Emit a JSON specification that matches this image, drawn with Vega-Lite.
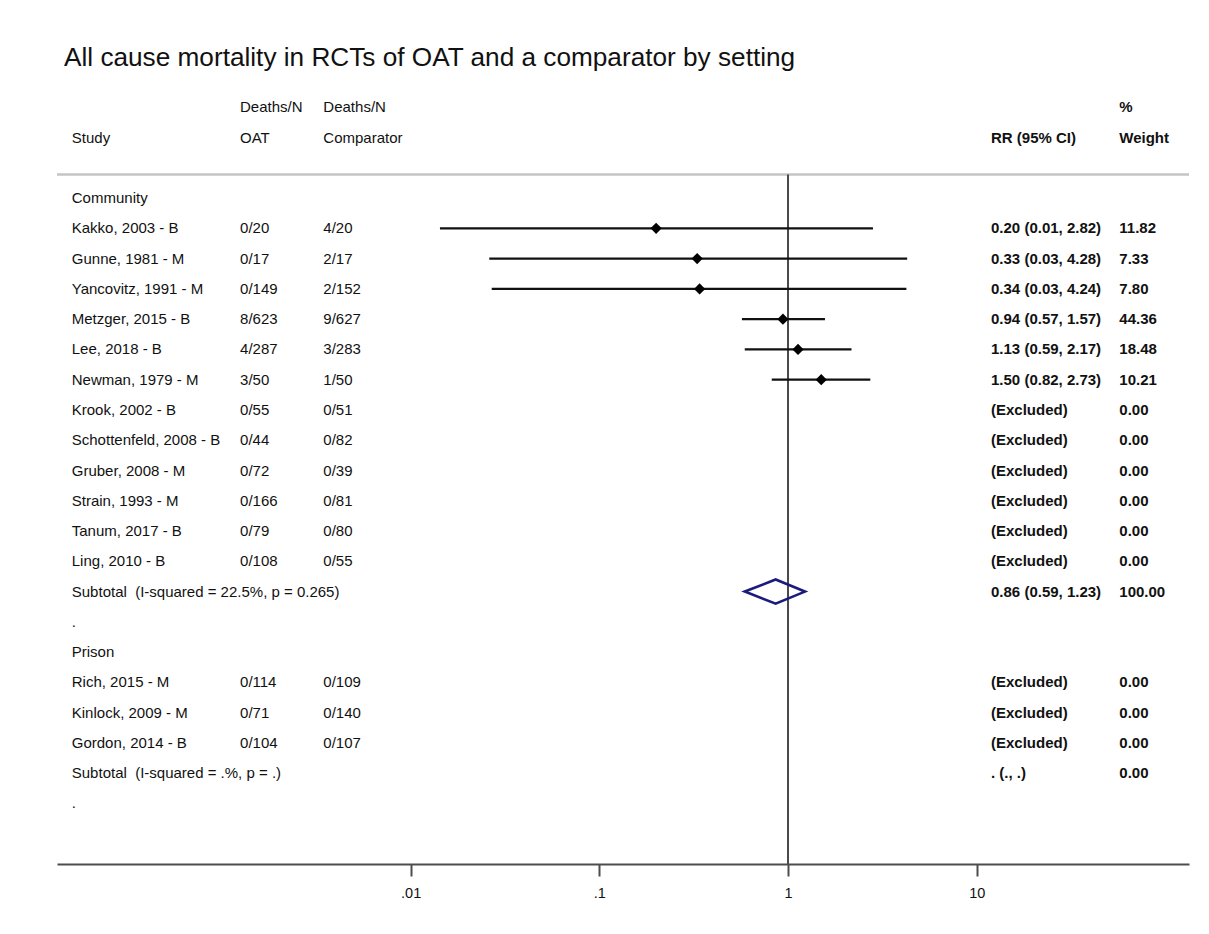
{
  "$schema": "https://vega.github.io/schema/vega-lite/v6.json",
  "width": 1132,
  "height": 787,
  "autosize": {"type": "none"},
  "padding": {"left": 57, "top": 77, "right": 20, "bottom": 70},
  "background": "white",
  "title": {
    "text": "All cause mortality in RCTs of OAT and a comparator by setting",
    "anchor": "start",
    "frame": "group",
    "font": "Liberation Sans",
    "fontSize": 26.2,
    "fontWeight": "normal",
    "color": "#111111",
    "baseline": "alphabetic",
    "dx": 7,
    "dy": 27,
    "offset": 12
  },
  "config": {
    "view": {"stroke": null},
    "axisX": {
      "grid": false,
      "domainColor": "#4d4d4d",
      "domainWidth": 2,
      "tickColor": "#4d4d4d",
      "tickWidth": 2,
      "tickSize": 12,
      "labelFont": "Liberation Sans",
      "labelFontSize": 14.5,
      "labelColor": "#111111",
      "labelPadding": 10
    },
    "text": {"font": "Liberation Sans", "fontSize": 15, "color": "#111111", "align": "left", "baseline": "middle"}
  },
  "data": {
    "values": [
      {"row": -3, "oat": "Deaths/N", "comp": "Deaths/N", "wtHead": "%"},
      {"row": -2, "study": "Study", "oat": "OAT", "comp": "Comparator", "rrHead": "RR (95% CI)", "wtHead": "Weight"},
      {"row": 0, "study": "Community"},
      {"row": 1, "study": "Kakko, 2003 - B", "oat": "0/20", "comp": "4/20", "rr": 0.20, "lo": 0.0143, "hi": 2.82, "wt": 11.82},
      {"row": 2, "study": "Gunne, 1981 - M", "oat": "0/17", "comp": "2/17", "rr": 0.33, "lo": 0.0261, "hi": 4.28, "wt": 7.33},
      {"row": 3, "study": "Yancovitz, 1991 - M", "oat": "0/149", "comp": "2/152", "rr": 0.34, "lo": 0.0269, "hi": 4.24, "wt": 7.80},
      {"row": 4, "study": "Metzger, 2015 - B", "oat": "8/623", "comp": "9/627", "rr": 0.94, "lo": 0.57, "hi": 1.57, "wt": 44.36},
      {"row": 5, "study": "Lee, 2018 - B", "oat": "4/287", "comp": "3/283", "rr": 1.13, "lo": 0.59, "hi": 2.17, "wt": 18.48},
      {"row": 6, "study": "Newman, 1979 - M", "oat": "3/50", "comp": "1/50", "rr": 1.50, "lo": 0.82, "hi": 2.73, "wt": 10.21},
      {"row": 7, "study": "Krook, 2002 - B", "oat": "0/55", "comp": "0/51", "wt": 0},
      {"row": 8, "study": "Schottenfeld, 2008 - B", "oat": "0/44", "comp": "0/82", "wt": 0},
      {"row": 9, "study": "Gruber, 2008 - M", "oat": "0/72", "comp": "0/39", "wt": 0},
      {"row": 10, "study": "Strain, 1993 - M", "oat": "0/166", "comp": "0/81", "wt": 0},
      {"row": 11, "study": "Tanum, 2017 - B", "oat": "0/79", "comp": "0/80", "wt": 0},
      {"row": 12, "study": "Ling, 2010 - B", "oat": "0/108", "comp": "0/55", "wt": 0},
      {"row": 13, "study": "Subtotal\u00a0 (I-squared = 22.5%, p = 0.265)", "kind": "subtotal", "rr": 0.86, "lo": 0.59, "hi": 1.23, "wt": 100},
      {"row": 14, "study": "."},
      {"row": 15, "study": "Prison"},
      {"row": 16, "study": "Rich, 2015 - M", "oat": "0/114", "comp": "0/109", "wt": 0},
      {"row": 17, "study": "Kinlock, 2009 - M", "oat": "0/71", "comp": "0/140", "wt": 0},
      {"row": 18, "study": "Gordon, 2014 - B", "oat": "0/104", "comp": "0/107", "wt": 0},
      {"row": 19, "study": "Subtotal\u00a0 (I-squared = .%, p = .)", "kind": "subtotal", "wt": 0},
      {"row": 20, "study": "."}
    ]
  },
  "transform": [
    {"calculate": "isValid(datum.rrHead) ? datum.rrHead : isValid(datum.rr) ? format(datum.rr, '.2f') + ' (' + format(datum.lo, '.2f') + ', ' + format(datum.hi, '.2f') + ')' : datum.kind === 'subtotal' ? '. (., .)' : isValid(datum.wt) ? '(Excluded)' : null", "as": "rrLabel"},
    {"calculate": "isValid(datum.wtHead) ? datum.wtHead : isValid(datum.wt) ? format(datum.wt, '.2f') : null", "as": "wtLabel"}
  ],
  "layer": [
    {
      "data": {"values": [{}]},
      "mark": {"type": "rule", "color": "#c4c4c4", "strokeWidth": 2.5},
      "encoding": {
        "y": {"datum": -0.78, "scale": {"domain": [-4, 22], "reverse": true, "nice": false, "zero": false}, "axis": null}
      }
    },
    {
      "data": {"values": [{}]},
      "mark": {"type": "rule", "color": "#4a4a4a", "strokeWidth": 2},
      "encoding": {
        "x": {"datum": 1},
        "y": {"datum": -0.78, "axis": null},
        "y2": {"datum": 22}
      }
    },
    {
      "transform": [{"filter": "isValid(datum.lo) && datum.kind !== 'subtotal'"}],
      "mark": {"type": "rule", "color": "#111111", "strokeWidth": 2.2},
      "encoding": {
        "x": {
          "field": "lo",
          "type": "quantitative",
          "title": null,
          "scale": {"type": "log", "domain": [0.0001336, 133.4], "nice": false},
          "axis": {
            "values": [0.01, 0.1, 1, 10],
            "format": "~g",
            "labelExpr": "datum.value < 1 ? slice(datum.label, 1) : datum.label",
            "title": null
          }
        },
        "x2": {"field": "hi"},
        "y": {"field": "row", "type": "quantitative", "axis": null}
      }
    },
    {
      "transform": [{"filter": "isValid(datum.rr) && datum.kind !== 'subtotal'"}],
      "mark": {"type": "point", "shape": "diamond", "filled": true, "color": "#000000", "opacity": 1, "size": 125},
      "encoding": {
        "x": {"field": "rr", "type": "quantitative", "title": null},
        "y": {"field": "row", "type": "quantitative", "axis": null}
      }
    },
    {
      "transform": [
        {"filter": "datum.kind === 'subtotal' && isValid(datum.rr)"},
        {"fold": ["lo", "rr", "hi"], "as": ["vertex", "v"]},
        {"calculate": "datum.vertex === 'rr' ? 0.4 : 0", "as": "half"},
        {"calculate": "datum.row - datum.half", "as": "top"},
        {"calculate": "datum.row + datum.half", "as": "bottom"}
      ],
      "mark": {"type": "area", "fillOpacity": 0, "stroke": "#1b1b7e", "strokeWidth": 2.6, "strokeJoin": "miter", "orient": "vertical"},
      "encoding": {
        "x": {"field": "v", "type": "quantitative", "title": null},
        "y": {"field": "top", "type": "quantitative", "axis": null},
        "y2": {"field": "bottom"}
      }
    },
    {
      "transform": [{"filter": "isValid(datum.study)"}],
      "mark": {"type": "text"},
      "encoding": {
        "x": {"datum": 0.000160},
        "y": {"field": "row", "type": "quantitative", "axis": null},
        "text": {"field": "study", "type": "nominal"}
      }
    },
    {
      "transform": [{"filter": "isValid(datum.oat)"}],
      "mark": {"type": "text"},
      "encoding": {
        "x": {"datum": 0.001247},
        "y": {"field": "row", "type": "quantitative", "axis": null},
        "text": {"field": "oat", "type": "nominal"}
      }
    },
    {
      "transform": [{"filter": "isValid(datum.comp)"}],
      "mark": {"type": "text"},
      "encoding": {
        "x": {"datum": 0.003447},
        "y": {"field": "row", "type": "quantitative", "axis": null},
        "text": {"field": "comp", "type": "nominal"}
      }
    },
    {
      "transform": [{"filter": "isValid(datum.rrLabel)"}],
      "mark": {"type": "text", "fontWeight": "bold"},
      "encoding": {
        "x": {"datum": 11.91},
        "y": {"field": "row", "type": "quantitative", "axis": null},
        "text": {"field": "rrLabel", "type": "nominal"}
      }
    },
    {
      "transform": [{"filter": "isValid(datum.wtLabel)"}],
      "mark": {"type": "text", "fontWeight": "bold"},
      "encoding": {
        "x": {"datum": 56.98},
        "y": {"field": "row", "type": "quantitative", "axis": null},
        "text": {"field": "wtLabel", "type": "nominal"}
      }
    }
  ]
}
